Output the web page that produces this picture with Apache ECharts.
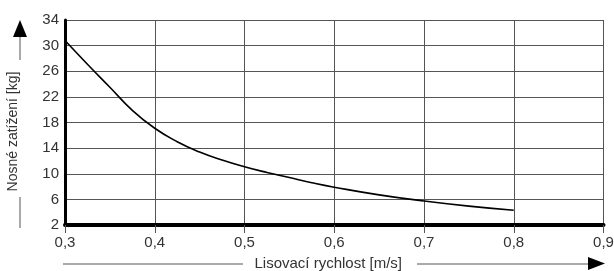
<!DOCTYPE html>
<html>
<head>
<meta charset="utf-8">
<script src="https://cdn.jsdelivr.net/npm/echarts@6/dist/echarts.min.js"></script>
<style>html,body{margin:0;padding:0;background:#fff}#c{width:614px;height:271px}</style>
</head>
<body>
<div id="c"></div>
<script>
const speeds = [0.300, 0.325, 0.350, 0.375, 0.400, 0.425, 0.450, 0.475, 0.500, 0.525, 0.550, 0.575, 0.600, 0.650, 0.700, 0.750, 0.800];
const loads  = [30.8, 27.1, 23.5, 19.9, 17.1, 15.0, 13.4, 12.15, 11.1, 10.2, 9.4, 8.6, 7.9, 6.7, 5.75, 4.95, 4.3];
const xTicks = ['0,3','0,4','0,5','0,6','0,7','0,8','0,9'];
const xName = 'Lisovací rychlost [m/s]';
const yName = 'Nosné zatížení [kg]';

const chart = echarts.init(document.getElementById('c'), null, {renderer: 'canvas'});
const font = 'Liberation Sans';
const gray = '#555';
const txt = '#333';
chart.setOption({
  animation: false,
  grid: {left: 65, right: 10.5, top: 20, bottom: 46, containLabel: false, outerBoundsMode: 'none'},
  xAxis: {
    type: 'value', min: 0.3, max: 0.9, interval: 0.1,
    name: xName, nameLocation: 'middle', nameGap: 31,
    nameTextStyle: {fontFamily: font, fontSize: 15, color: txt, padding: [0, 12, 0, 0]},
    axisLine: {show: true, onZero: false, lineStyle: {color: '#000', width: 4}},
    axisTick: {show: true, length: 8, lineStyle: {color: gray, width: 1}},
    axisLabel: {fontFamily: font, fontSize: 15, color: txt, margin: 10,
      formatter: v => xTicks[Math.round((v - 0.3) * 10)]},
    splitLine: {show: true, lineStyle: {color: gray, width: 1}}
  },
  yAxis: {
    type: 'value', min: 2, max: 34, interval: 4,
    name: yName, nameLocation: 'middle', nameGap: 45, nameRotate: 90,
    nameTextStyle: {fontFamily: font, fontSize: 14, color: txt, padding: [0, 18, 0, 0]},
    axisLine: {show: true, onZero: false, lineStyle: {color: '#000', width: 3}},
    axisTick: {show: false},
    axisLabel: {fontFamily: font, fontSize: 15, color: txt, margin: 6},
    splitLine: {show: true, lineStyle: {color: gray, width: 1}}
  },
  series: [{
    type: 'line', smooth: 0.5, symbol: 'none',
    data: speeds.map((s, i) => [s, loads[i]]),
    lineStyle: {color: '#000', width: 1.6}
  }],
  graphic: [
    {type: 'line', shape: {x1: 63, y1: 264, x2: 243, y2: 264}, style: {stroke: gray, lineWidth: 1}},
    {type: 'line', shape: {x1: 417, y1: 264, x2: 590, y2: 264}, style: {stroke: gray, lineWidth: 1}},
    {type: 'polygon', shape: {points: [[588, 257], [605, 263.5], [588, 270]]}, style: {fill: '#000'}},
    {type: 'line', shape: {x1: 20, y1: 197, x2: 20, y2: 228}, style: {stroke: gray, lineWidth: 1}},
    {type: 'line', shape: {x1: 20, y1: 37, x2: 20, y2: 60}, style: {stroke: gray, lineWidth: 1}},
    {type: 'polygon', shape: {points: [[13, 37], [20, 20], [27, 37]]}, style: {fill: '#000'}}
  ]
});
</script>
</body>
</html>
